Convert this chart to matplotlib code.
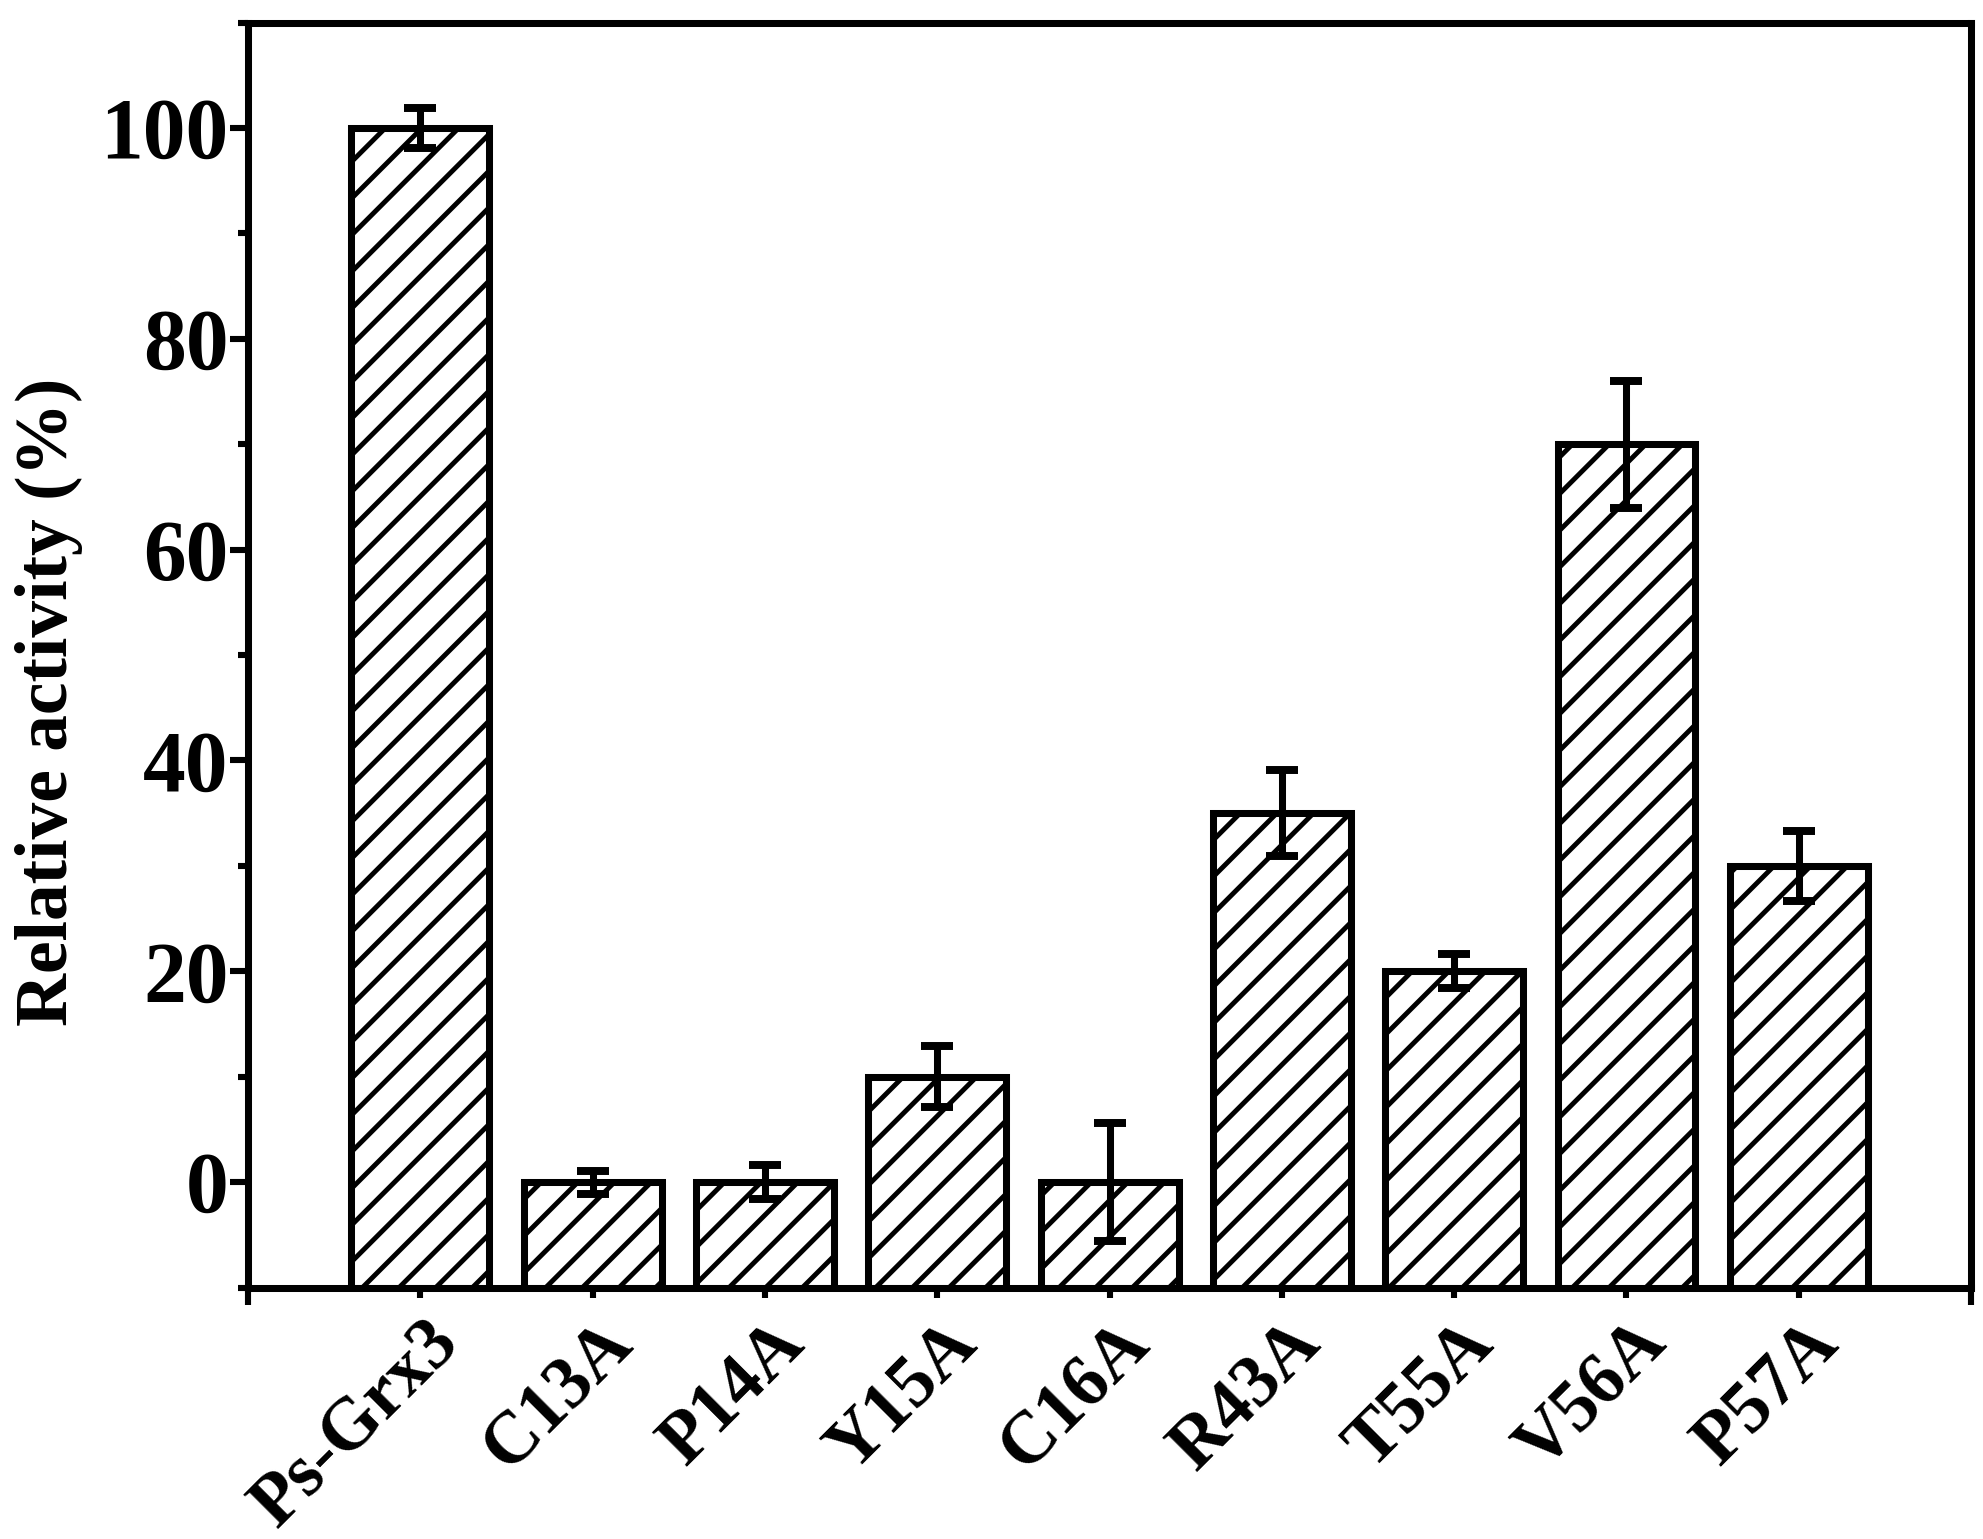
import matplotlib
matplotlib.use("Agg")
import matplotlib.pyplot as plt
from matplotlib.ticker import FixedLocator
from matplotlib.transforms import ScaledTranslation

# data
mutants = ["Ps-Grx3", "C13A", "P14A", "Y15A", "C16A", "R43A", "T55A", "V56A", "P57A"]
activity = [100, 0, 0, 10, 0, 35, 20, 70, 30]
errors = [1.9, 1.1, 1.6, 2.9, 5.6, 4.1, 1.6, 6.0, 3.3]
y_floor = -10

plt.rcParams["font.family"] = ["Liberation Serif", "DejaVu Serif"]
plt.rcParams["font.weight"] = "bold"
plt.rcParams["hatch.linewidth"] = 1.6
plt.rcParams["hatch.color"] = "black"

fig = plt.figure(figsize=(1983 / 220, 1539 / 220), dpi=220)
ax = fig.add_axes([0.1251, 0.1634, 0.994 - 0.1251, 0.9853 - 0.1634])

x = list(range(len(mutants)))
heights = [v - y_floor for v in activity]
ax.bar(x, heights, bottom=y_floor, width=0.8, color="white", edgecolor="black",
       linewidth=2.3, hatch="//", zorder=2)
ax.errorbar(x, activity, yerr=errors, fmt="none", ecolor="black",
            elinewidth=2.3, capsize=5.2, capthick=2.6, zorder=3)

ax.set_xlim(-1, 9)
ax.set_ylim(-10, 110)

# long ticks at the ends, short ticks with labels under each bar
ax.set_xticks([-1, 9])
ax.set_xticklabels(["", ""])
ax.set_xticks(x, minor=True)
ax.set_xticklabels(mutants, minor=True, rotation=45, ha="right", va="center",
                   rotation_mode="anchor", fontsize=24, fontweight="bold")

ax.yaxis.set_major_locator(FixedLocator([0, 20, 40, 60, 80, 100]))
ax.yaxis.set_minor_locator(FixedLocator([-10, 10, 30, 50, 70, 90, 110]))
ax.tick_params(axis="y", which="major", labelsize=28, length=5.9, width=2, pad=0.5, direction="out")
ax.tick_params(axis="y", which="minor", length=3.3, width=2, direction="out")
ax.tick_params(axis="x", which="major", length=5.5, width=2, direction="out")
ax.tick_params(axis="x", which="minor", length=3.3, width=2, pad=11.5, direction="out")

# nudge the slanted labels to the right (after tick_params, which resets transforms)
shift = ScaledTranslation(9.5 / 72, 0, fig.dpi_scale_trans)
for lab in ax.get_xticklabels(minor=True):
    lab.set_transform(lab.get_transform() + shift)

for s in ax.spines.values():
    s.set_linewidth(2.3)

ax.set_ylabel("Relative activity (%)", fontsize=24, fontweight="bold")
ax.yaxis.set_label_coords(-0.096, 0.463)

fig.savefig("out.png", dpi=220)
